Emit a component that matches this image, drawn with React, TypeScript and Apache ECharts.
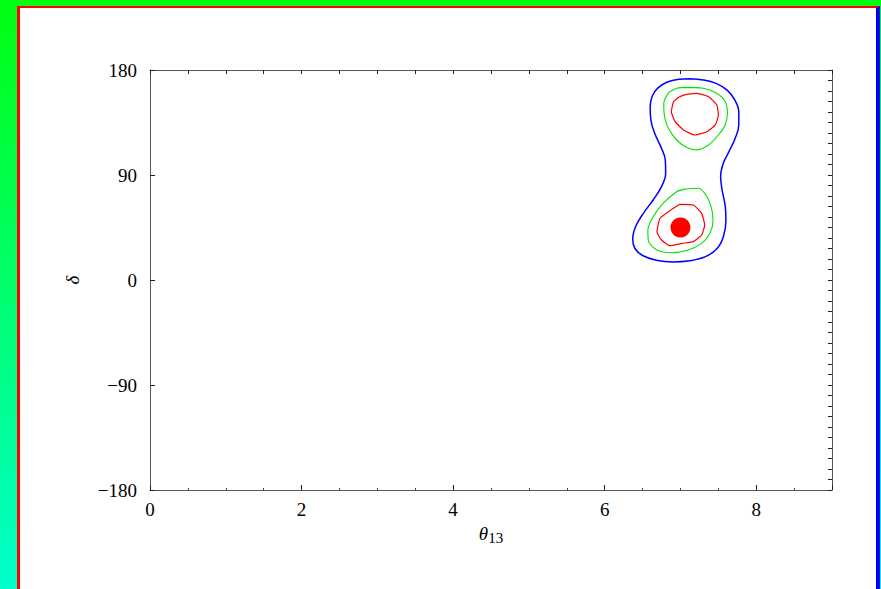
import React, { useEffect, useRef } from "react";
import * as echarts from "echarts";

const xTicks = [0, 2, 4, 6, 8];
const yTicks = [-180, -90, 0, 90, 180];

// outer contour (blue)
const blueContour: [number, number][] = [
  [7.13, 172.5], [7.30, 171.5], [7.47, 168.5], [7.62, 162.5], [7.72, 154.0],
  [7.77, 144.0], [7.77, 133.0], [7.72, 121.0], [7.64, 110.0], [7.565, 100.0],
  [7.53, 89.0], [7.55, 77.0], [7.59, 64.0], [7.60, 51.4], [7.57, 38.0],
  [7.49, 27.5], [7.33, 20.0], [7.12, 16.5], [6.90, 15.5], [6.68, 17.0],
  [6.50, 21.0], [6.40, 27.0], [6.37, 35.0], [6.41, 46.0], [6.51, 57.1],
  [6.64, 68.6], [6.75, 80.0], [6.805, 91.4], [6.80, 103.0], [6.74, 114.3],
  [6.66, 125.7], [6.61, 137.1], [6.60, 148.6], [6.63, 158.0], [6.70, 164.5],
  [6.82, 169.5], [6.98, 172.0], [7.13, 172.5],
];

const greenUpper: [number, number][] = [
  [7.04, 165.1], [7.30, 164.3], [7.48, 160.0], [7.59, 152.9], [7.62, 142.9],
  [7.59, 132.9], [7.50, 124.3], [7.37, 115.7], [7.21, 111.4], [7.08, 113.7],
  [6.95, 120.0], [6.84, 130.0], [6.79, 140.0], [6.78, 151.4], [6.84, 160.0],
  [6.95, 164.3], [7.04, 165.1],
];

const greenLower: [number, number][] = [
  [7.04, 77.7], [7.24, 78.6], [7.35, 71.4], [7.41, 61.4], [7.43, 51.4],
  [7.39, 40.0], [7.28, 31.4], [7.10, 25.7], [6.88, 23.4], [6.69, 25.7],
  [6.58, 32.9], [6.57, 42.9], [6.64, 54.3], [6.77, 65.7], [6.95, 75.7],
  [7.04, 77.7],
];

const redUpper: [number, number][] = [
  [7.08, 159.1], [7.21, 160.0], [7.37, 157.1], [7.48, 150.0], [7.50, 141.4],
  [7.46, 132.9], [7.35, 127.1], [7.19, 124.3], [7.04, 128.6], [6.93, 135.7],
  [6.88, 144.3], [6.91, 152.9], [6.99, 157.1], [7.08, 159.1],
];

const redLower: [number, number][] = [
  [6.99, 64.9], [7.17, 64.3], [7.28, 57.1], [7.32, 47.1], [7.28, 38.6],
  [7.17, 32.9], [7.02, 31.4], [6.86, 29.4], [6.75, 34.3], [6.69, 41.4],
  [6.73, 52.9], [6.86, 59.4], [6.99, 64.9],
];

const bestFit: [number, number][] = [[7.0, 45]];

const FONT = "'Liberation Serif', 'DejaVu Serif', serif";

export default function App() {
  const ref = useRef<HTMLDivElement>(null);

  useEffect(() => {
    if (!ref.current) return;
    const chart = echarts.init(ref.current, null, { renderer: "svg" });
    const axisLine = { show: true, onZero: false, lineStyle: { color: "#555", width: 1 } };
    const line = (data: [number, number][], color: string, width: number, smooth: number) => ({
      type: "line",
      data,
      showSymbol: false,
      symbol: "none",
      smooth,
      lineStyle: { color, width },
      silent: true,
    });
    chart.setOption({
      animation: false,
      backgroundColor: "transparent",
      grid: { left: 150, right: 49, top: 70, bottom: 99, containLabel: false },
      xAxis: [
        {
          type: "value",
          position: "bottom",
          min: 0,
          max: 9,
          interval: 2,
          axisLine,
          axisTick: { show: true, inside: true, length: 5, lineStyle: { color: "#222" } },
          minorTick: { show: true, splitNumber: 4, length: 2, lineStyle: { color: "#444" } },
          splitLine: { show: false },
          axisLabel: {
            show: true,
            showMaxLabel: false,
            margin: 10,
            color: "#000",
            fontFamily: FONT,
            fontSize: 19,
            formatter: (v: number) => (xTicks.includes(v) ? String(v) : ""),
          },
          name: "{i|θ}{s|13}",
          nameLocation: "middle",
          nameGap: 32,
          nameTextStyle: {
            rich: {
              i: { fontFamily: FONT, fontStyle: "italic", fontSize: 19, color: "#000" },
              s: { fontFamily: FONT, fontSize: 15, color: "#000", padding: [8, 0, 0, 0] },
            },
          },
        },
        {
          type: "value",
          position: "top",
          min: 0,
          max: 9,
          interval: 0.5,
          axisLine,
          axisTick: { show: true, inside: true, length: 4, lineStyle: { color: "#222" } },
          splitLine: { show: false },
          axisLabel: { show: false },
        },
      ],
      yAxis: [
        {
          type: "value",
          position: "left",
          min: -180,
          max: 180,
          interval: 90,
          axisLine,
          axisTick: { show: true, inside: true, length: 5, lineStyle: { color: "#222" } },
          splitLine: { show: false },
          axisLabel: {
            margin: 13,
            color: "#000",
            fontFamily: FONT,
            fontSize: 19,
            formatter: (v: number) => (yTicks.includes(v) ? (v < 0 ? "\u2212" + Math.abs(v) : String(v)) : ""),
          },
          name: "δ",
          nameLocation: "middle",
          nameRotate: 90,
          nameGap: 68,
          nameTextStyle: { fontFamily: FONT, fontStyle: "italic", fontSize: 19, color: "#000" },
        },
        {
          type: "value",
          position: "right",
          min: -180,
          max: 180,
          interval: 9,
          axisLine,
          axisTick: { show: true, inside: true, length: 4, lineStyle: { color: "#222" } },
          splitLine: { show: false },
          axisLabel: { show: false },
        },
      ],
      series: [
        line(blueContour, "#0000ff", 1.5, 0.4),
        line(greenUpper, "#00e000", 1.1, 0.25),
        line(greenLower, "#00e000", 1.1, 0.25),
        line(redUpper, "#ff0000", 1.2, 0.15),
        line(redLower, "#ff0000", 1.2, 0.15),
        {
          type: "scatter",
          data: bestFit,
          symbol: "circle",
          symbolSize: 20,
          itemStyle: { color: "#ff0000", opacity: 1 },
          silent: true,
        },
      ],
    });
    return () => chart.dispose();
  }, []);

  return (
    <div
      style={{
        position: "fixed",
        left: 0,
        top: 0,
        width: 881,
        height: 589,
        overflow: "hidden",
        background: "linear-gradient(to bottom, #00ff10, #00ffcc)",
      }}
    >
      <div
        style={{
          position: "absolute",
          left: 17,
          top: 6,
          width: 863,
          height: 620,
          boxSizing: "border-box",
          background: "#fff",
          borderLeft: "3px solid #ff0000",
          borderTop: "2px solid #ff0000",
          borderRight: "4px solid #0000ff",
        }}
      />
      <div ref={ref} style={{ position: "absolute", left: 0, top: 0, width: 881, height: 589 }} />
    </div>
  );
}
